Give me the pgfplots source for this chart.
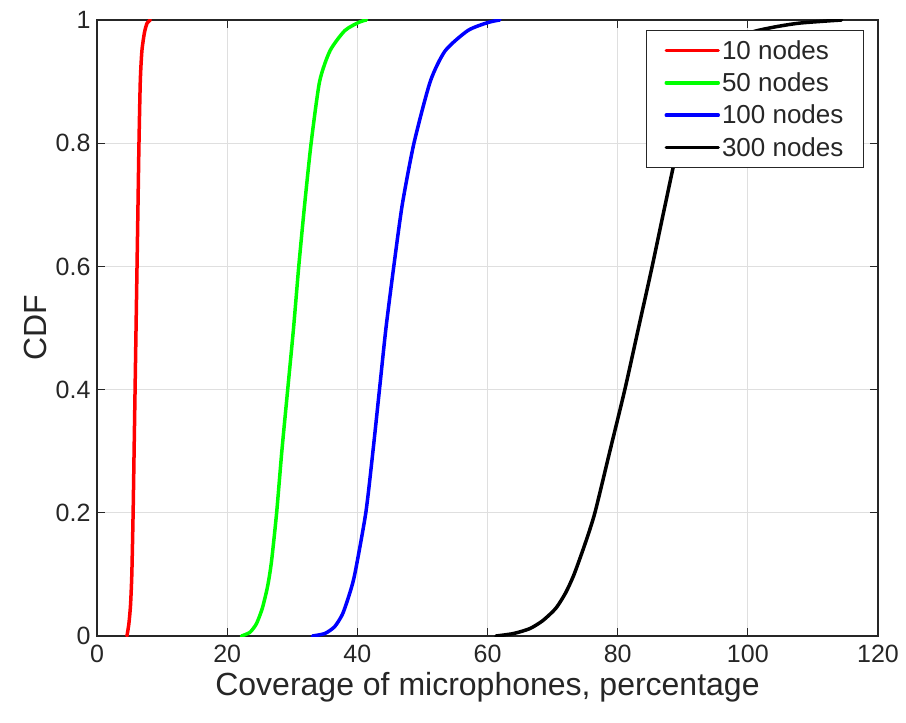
\documentclass[border=0pt]{standalone}
\usepackage{fontspec}
\setmainfont{Liberation Sans}
\usepackage{pgfplots}
\pgfplotsset{compat=1.18}
\definecolor{axgray}{RGB}{38,38,38}
\definecolor{gridgray}{RGB}{223,223,223}

\begin{document}
\begin{tikzpicture}
\begin{axis}[
  scale only axis, width=781pt, height=616pt,
  xmin=0, xmax=120, ymin=0, ymax=1,
  xtick={0,20,...,120}, ytick={0,0.2,...,1},
  yticklabels={0,0.2,0.4,0.6,0.8,1},
  /pgf/number format/assume math mode=true,
  grid=major, grid style={gridgray, line width=1pt},
  axis line style={axgray, line width=1.2pt},
  tick style={axgray, line width=1.2pt},
  tick align=inside, major tick length=8pt,
  ticklabel style={font=\fontsize{25}{30}\selectfont, text=axgray},
  xticklabel style={yshift=-6pt},
  yticklabel style={xshift=-3pt},
  label style={font=\fontsize{32}{38}\selectfont, text=axgray},
  xlabel={Coverage of microphones, percentage},
  ylabel={CDF},
  xlabel style={yshift=-2pt},
  ylabel style={yshift=2pt},
  legend style={at={(0.982,0.984)}, anchor=north east, draw=axgray, line width=1pt,
    font=\fontsize{26}{31}\selectfont, text=axgray, inner xsep=18pt, inner ysep=8pt,
    row sep=8pt, cells={anchor=west}},
  legend image code/.code={\draw[#1, line width=3.5pt] (0pt,0pt) -- (52pt,0pt);},
  every axis plot/.append style={line width=3.5pt, line join=round, line cap=round, smooth, tension=0.4},
]
\addplot[red] coordinates {(4.6,0) (4.9,0.02) (5.15,0.05) (5.35,0.1) (5.55,0.2) (5.7,0.3) (5.85,0.4) (6.0,0.5) (6.15,0.6) (6.3,0.7) (6.45,0.8) (6.65,0.9) (6.9,0.95) (7.3,0.98) (7.7,0.995) (8.2,1)};
\addplot[green] coordinates {(22.2,0) (23.5,0.006) (24.5,0.02) (25.4,0.045) (26.2,0.08) (26.8,0.12) (27.6,0.2) (28.4,0.3) (29.3,0.4) (30.2,0.5) (31.0,0.6) (31.9,0.7) (32.9,0.8) (34.2,0.9) (35.8,0.95) (38.1,0.983) (40.4,0.997) (41.4,1)};
\addplot[blue] coordinates {(33.1,0) (35,0.004) (36.5,0.015) (37.7,0.035) (38.7,0.065) (39.6,0.1) (41.3,0.2) (42.4,0.3) (43.4,0.4) (44.4,0.5) (45.6,0.6) (46.9,0.7) (48.7,0.8) (51.2,0.9) (53.5,0.95) (57.0,0.983) (60.1,0.996) (61.9,1)};
\addplot[black] coordinates {(61.3,0) (64,0.004) (66.5,0.012) (68.5,0.025) (70.5,0.045) (72,0.07) (73.3,0.1) (75,0.15) (76.5,0.2) (78.8,0.3) (81.1,0.4) (83.2,0.5) (85.3,0.6) (87.3,0.7) (89.4,0.8) (92.5,0.9) (95.5,0.95) (100,0.978) (103.8,0.988) (108,0.995) (114.4,1)};
\legend{10 nodes, 50 nodes, 100 nodes, 300 nodes}
\end{axis}
% page margins as in the reference
\path (current axis.south west) ++(-97pt,-86pt) (current axis.north east) ++(28pt,20pt);
\end{tikzpicture}
\end{document}
